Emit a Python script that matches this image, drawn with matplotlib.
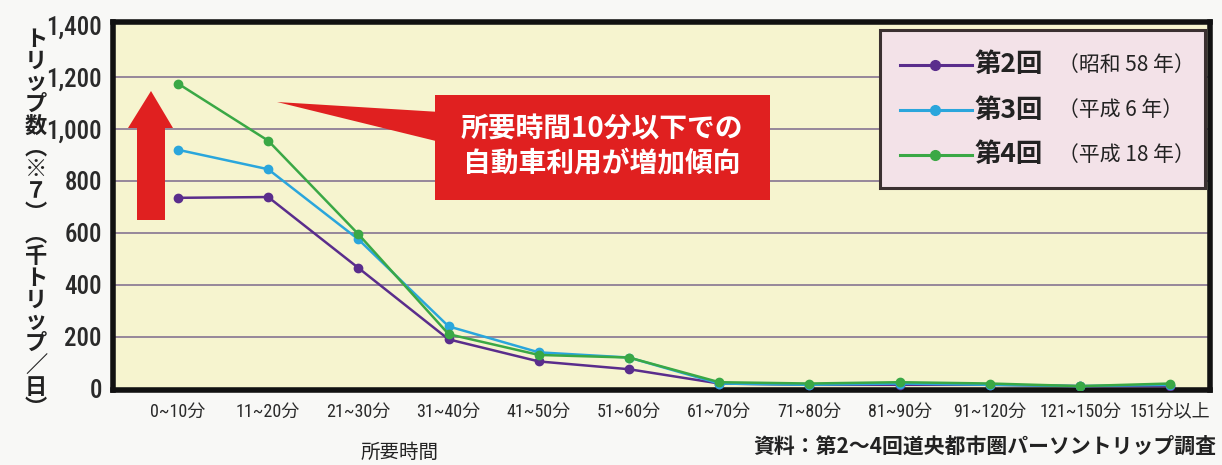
import matplotlib
matplotlib.use("Agg")
import matplotlib.pyplot as plt
from matplotlib.patches import Rectangle, Polygon
from matplotlib.lines import Line2D

# 所要時間帯別の自動車トリップ数（千トリップ／日）
categories = ["0~10分", "11~20分", "21~30分", "31~40分", "41~50分", "51~60分",
              "61~70分", "71~80分", "81~90分", "91~120分", "121~150分", "151分以上"]
s58 = [735, 738, 465, 190, 105, 75, 20, 15, 15, 15, 10, 10]
h6 = [920, 845, 575, 240, 140, 120, 20, 15, 20, 15, 10, 15]
h18 = [1175, 955, 595, 210, 130, 120, 25, 20, 25, 20, 10, 20]
series_names = ["第2回", "第3回", "第4回"]
series_years = ["（昭和 58 年）", "（平成 6 年）", "（平成 18 年）"]
colors = ["#5a2d8c", "#2aa6dc", "#3aa845"]
yticks = [0, 200, 400, 600, 800, 1000, 1200, 1400]

narrow = "Roboto Condensed"
jp = "Noto Sans CJK JP"
plt.rcParams["font.family"] = [jp, "DejaVu Sans"]

W, H = 1222, 465
fig = plt.figure(figsize=(W / 100, H / 100), dpi=100)
fig.patch.set_facecolor("#f8f8f6")


def px(x, y):
    return (x / W, 1 - y / H)


ax = fig.add_axes([113 / W, 1 - 390 / H, (1210 - 113) / W, (390 - 22) / H])
ax.set_facecolor("#f6f4cf")

x = list(range(len(categories)))
for vals, c in zip([s58, h6, h18], colors):
    ax.plot(x, vals, color=c, lw=1.8, marker="o", ms=6, zorder=3)

ax.set_xlim(-0.72, 11.44)
ax.set_ylim(-5, 1412)
ax.set_yticks(yticks)
ax.set_yticklabels([f"{v:,}" for v in yticks], family=[narrow, jp],
                   fontsize=18, fontweight="medium", color="#2a2a2a")
ax.set_xticks(x)
ax.set_xticklabels(categories, family=[narrow, jp], fontsize=13, color="#2a2a2a")
ax.tick_params(length=0, pad=9)
ax.tick_params(axis="y", pad=8)
for v in yticks[1:-1]:
    ax.axhline(v, color="#8e7e96", lw=1.3, zorder=1)
for sp in ax.spines.values():
    sp.set_linewidth(4)
    sp.set_color("#111111")

# 縦書きの軸ラベル
ylab = "トリップ数︵※７︶︵千トリップ／日︶"
fig.text(*px(36, 224), "\n".join(ylab), ha="center", va="center",
         fontsize=16, fontweight="bold", color="#222222", linespacing=0.93)

fig.text(*px(400, 452), "所要時間", ha="center", va="center", fontsize=14, color="#222222")
fig.text(*px(1216, 446), "資料：第2～4回道央都市圏パーソントリップ調査", ha="right",
         va="center", fontsize=15, fontweight="bold", color="#222222")

# 凡例
lx0, lx1, ly0, ly1 = 880, 1205, 30, 188
fig.add_artist(Rectangle(px(lx0, ly1), (lx1 - lx0) / W, (ly1 - ly0) / H,
                         transform=fig.transFigure, facecolor="#f3e2e8",
                         edgecolor="#3a3030", lw=2.2, zorder=5))
for i, (nm, yr, c) in enumerate(zip(series_names, series_years, colors)):
    yy = 65 + i * 45
    fig.add_artist(Line2D([900 / W, 972 / W], [1 - yy / H] * 2, color=c, lw=2.2, zorder=6))
    fig.add_artist(Line2D([935 / W], [1 - yy / H], color=c, marker="o", ms=7, zorder=6))
    fig.text(*px(974, yy), nm, ha="left", va="center", fontsize=19,
             fontweight="bold", color="#222222", zorder=7)
    fig.text(*px(1058, yy), yr, ha="left", va="center", fontsize=15,
             color="#222222", zorder=7)

# 吹き出し
red = "#e02020"
fig.add_artist(Polygon([px(277, 102), px(440, 112), px(440, 142)], closed=True,
                       transform=fig.transFigure, facecolor=red, edgecolor="none", zorder=5))
fig.add_artist(Rectangle(px(435, 200), 335 / W, 105 / H, transform=fig.transFigure,
                         facecolor=red, edgecolor="none", zorder=5))
fig.text(*px(602, 147), "所要時間10分以下での\n自動車利用が増加傾向", ha="center",
         va="center", fontsize=20, fontweight="bold", color="white",
         linespacing=1.35, zorder=6)

# 増加を示す矢印
fig.add_artist(Polygon([px(137, 220), px(165, 220), px(165, 128), px(173, 128),
                        px(151, 91), px(128, 128), px(137, 128)], closed=True,
                       transform=fig.transFigure, facecolor=red, edgecolor="none", zorder=5))

fig.savefig("out.png", dpi=100, facecolor=fig.get_facecolor())
